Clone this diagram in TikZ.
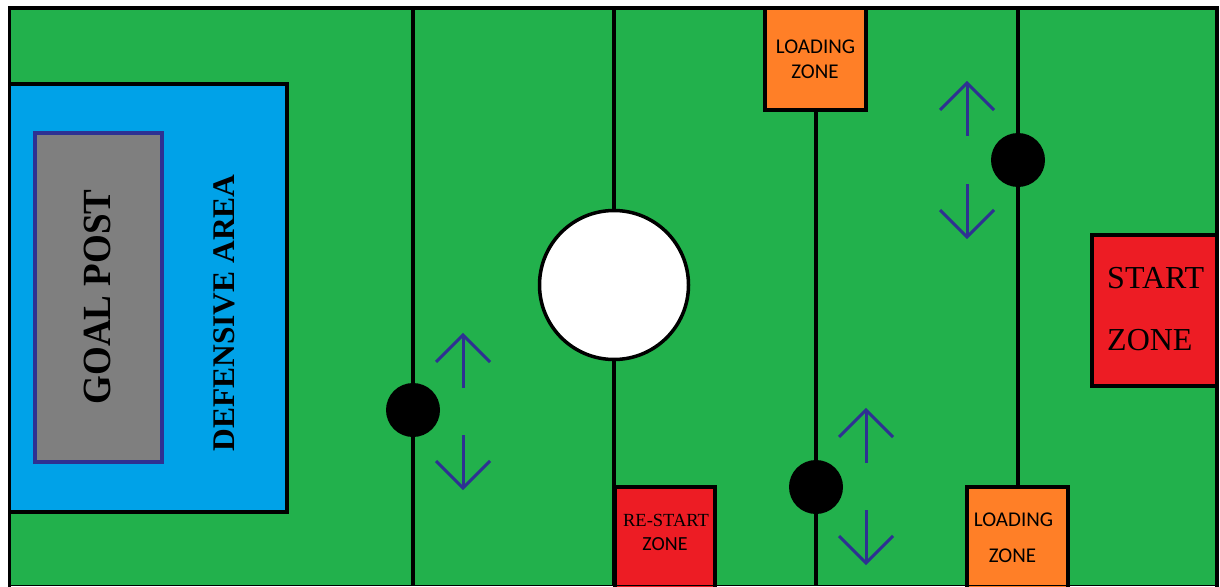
\documentclass[tikz,border=0pt]{standalone}
\usepackage{fontspec}
\setmainfont{Liberation Serif}
\newfontfamily\calib{Carlito}
\definecolor{field}{HTML}{22B14C}
\definecolor{defblue}{HTML}{00A2E8}
\definecolor{postgray}{HTML}{7F7F7F}
\definecolor{navy}{HTML}{2E3192}
\definecolor{zoneorange}{HTML}{FF7F27}
\definecolor{zonered}{HTML}{ED1C24}
\newcommand\uparrowat[2]{% x, tip y
  \draw[arr] (#1,#2) -- (#1,#2+53);
  \draw[arr] (#1-27,#2+27) -- (#1,#2) -- (#1+27,#2+27);}
\newcommand\downarrowat[2]{% x, tip y
  \draw[arr] (#1,#2) -- (#1,#2-53);
  \draw[arr] (#1-27,#2-27) -- (#1,#2) -- (#1+27,#2-27);}
\begin{document}
\begin{tikzpicture}[x=1pt,y=-1pt,
  blk/.style={line width=3.5pt, draw=black},
  arr/.style={line width=3pt, draw=navy},
  dot/.style={circle, fill=black, minimum size=54pt, inner sep=0pt},
  lbl/.style={inner sep=0pt, anchor=center},
  sanslbl/.style={lbl, font=\calib\fontsize{21}{21}\selectfont},
  seriflbl/.style={lbl, font=\fontsize{18.5}{18.5}\selectfont}]
\useasboundingbox (0,0) rectangle (1220,586);
\fill[white] (0,0) rectangle (1220,586);
% field
\fill[field] (9.5,8) rectangle (1217,586);
% vertical lines
\draw[blk] (413,8) -- (413,586);
\draw[blk] (614,8) -- (614,586);
\draw[blk] (816,110) -- (816,586);
\draw[blk] (1018,8) -- (1018,487);
% defensive area and goal post
\draw[blk, fill=defblue] (9.5,84) rectangle (287,512);
\draw[line width=4pt, draw=navy, fill=postgray] (34.5,133) rectangle (161.5,462);
\node[lbl, rotate=90, font=\bfseries\fontsize{37}{37}\selectfont] (goal) at (97,297) {\scalebox{1}[1.08]{GOAL POST}};
\node[lbl, rotate=90, font=\bfseries\fontsize{31.5}{31.5}\selectfont] (def) at (224,313) {DEFENSIVE AREA};
% centre circle
\node[circle, blk, fill=white, minimum size=149pt, inner sep=0pt] (ball) at (614,285) {};
% robots
\node[dot] (r1) at (413,410) {};
\node[dot] (r2) at (816,487) {};
\node[dot] (r3) at (1018,160) {};
% movement arrows
\uparrowat{463}{335}
\downarrowat{463}{488}
\uparrowat{866}{410}
\downarrowat{866}{563}
\uparrowat{967}{83}
\downarrowat{967}{237}
% zones
\draw[blk, fill=zoneorange] (765,8) rectangle (866,110);
\node[sanslbl] (lz1a) at (815.5,47) {LOADING};
\node[sanslbl] (lz1b) at (815,72) {ZONE};
\draw[blk, fill=zonered] (715,589) -- (715,487) -- (615,487) -- (615,589);
\node[seriflbl] (rsa) at (666,520) {RE-START};
\node[sanslbl, font=\calib\fontsize{20}{20}\selectfont] (rsb) at (665,544) {ZONE};
\draw[blk, fill=zoneorange] (1068,589) -- (1068,487) -- (967,487) -- (967,589);
\node[sanslbl] (lz2a) at (1013.5,520) {LOADING};
\node[sanslbl] (lz2b) at (1012.5,556) {ZONE};
\draw[blk, fill=zonered] (1092,235) rectangle (1217,386);
\node[inner sep=0pt, anchor=west, font=\fontsize{32}{32}\selectfont] (sa) at (1107,278) {START};
\node[inner sep=0pt, anchor=west, font=\fontsize{32}{32}\selectfont] (sb) at (1107,340) {ZONE};
% outer border (no bottom edge)
\draw[blk] (9.5,589) -- (9.5,8) -- (1217,8) -- (1217,589);
\draw[line width=1pt] (9.5,585.5) -- (1217,585.5);
\end{tikzpicture}
\end{document}
